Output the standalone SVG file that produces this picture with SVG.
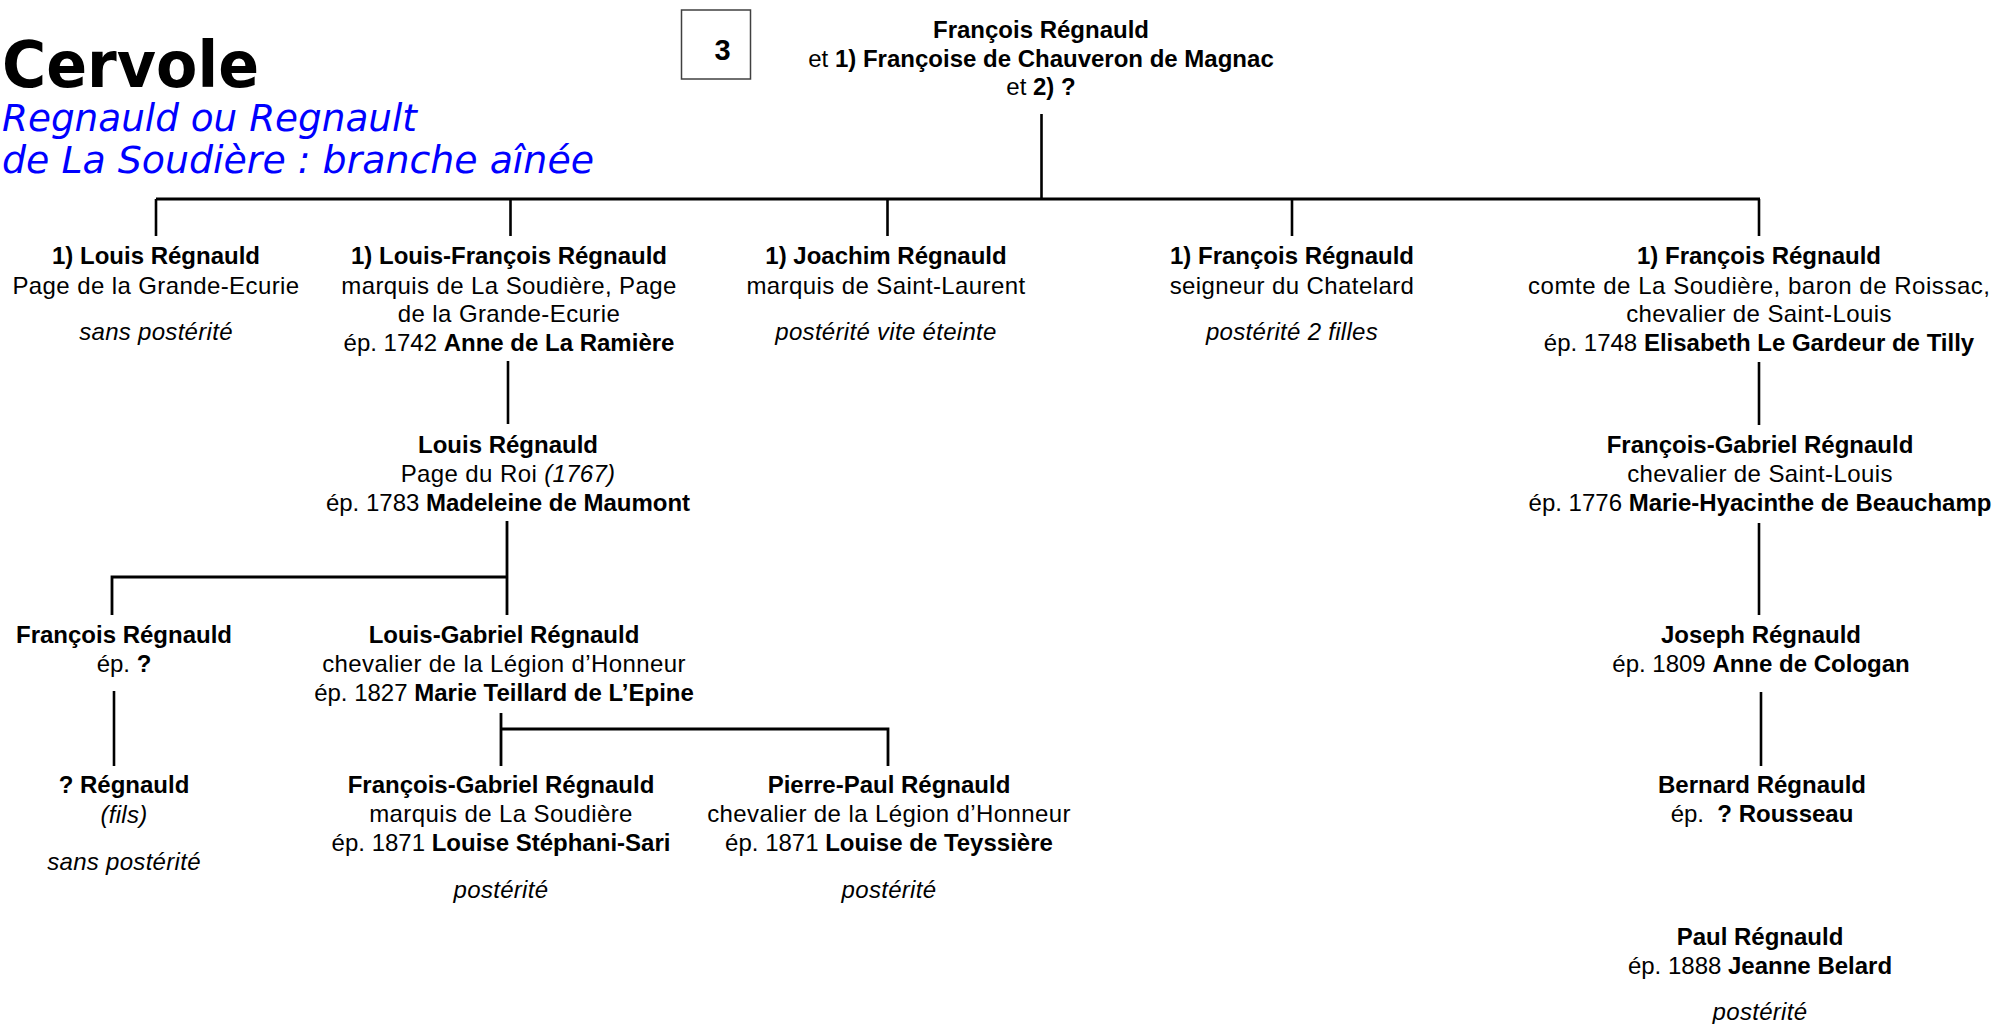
<svg xmlns="http://www.w3.org/2000/svg" width="2003" height="1024" viewBox="0 0 2003 1024">
<style>
.t{font-family:"Liberation Sans",Arial,sans-serif;font-size:24px;text-anchor:middle;fill:#000}
.b{font-weight:bold}
.i{font-style:italic;letter-spacing:0.3px}
.r{letter-spacing:0.4px}
.title{font-family:"DejaVu Sans",Verdana,sans-serif;font-weight:bold;font-size:64px;fill:#000}
.sub{font-family:"DejaVu Sans",Verdana,sans-serif;font-style:italic;font-size:37px;fill:#0000FF}
.c line,.c path{stroke:#000;stroke-width:2.6;fill:none}
</style>
<rect width="2003" height="1024" fill="#fff"/>
<g id="title">
<text class="title" x="2" y="87" textLength="257" lengthAdjust="spacingAndGlyphs">Cervole</text>
<text class="sub" x="2" y="131" textLength="415" lengthAdjust="spacingAndGlyphs">Regnauld ou Regnault</text>
<text class="sub" x="2" y="173" textLength="592" lengthAdjust="spacingAndGlyphs">de La Soudière : branche aînée</text>
</g>
<g id="box3">
<rect x="681.5" y="10" width="69" height="69" fill="none" stroke="#404040" stroke-width="1.5"/>
<text class="t b" x="722.5" y="60" style="font-size:29px">3</text>
</g>
<g class="c" id="connectors">
<line x1="1041.5" y1="114" x2="1041.5" y2="199"/>
<line x1="156" y1="199" x2="1760" y2="199" style="stroke-width:3"/>
<line x1="156" y1="199" x2="156" y2="236"/>
<line x1="510.5" y1="199" x2="510.5" y2="236"/>
<line x1="887.5" y1="199" x2="887.5" y2="236"/>
<line x1="1292" y1="199" x2="1292" y2="236"/>
<line x1="1759" y1="199" x2="1759" y2="236"/>
<line x1="508" y1="361" x2="508" y2="424"/>
<line x1="1759" y1="362" x2="1759" y2="425"/>
<path d="M507 521V615M112 615V577H507" style="stroke-width:2.8"/>
<line x1="114" y1="691" x2="114" y2="766"/>
<path d="M501 713V766M501 729H888V766" style="stroke-width:2.8"/>
<line x1="1759" y1="523" x2="1759" y2="615"/>
<line x1="1761" y1="692" x2="1761" y2="766"/>
</g>
<g id="n-francois">
<text class="t" x="1041" y="38"><tspan class="b">François Régnauld</tspan></text>
<text class="t" x="1041" y="67">et <tspan class="b">1) Françoise de Chauveron de Magnac</tspan></text>
<text class="t" x="1041" y="95">et <tspan class="b">2) ?</tspan></text>
</g>
<g id="n-louis">
<text class="t b" x="156" y="264">1) Louis Régnauld</text>
<text class="t r" x="156" y="294">Page de la Grande-Ecurie</text>
<text class="t i" x="156" y="340">sans postérité</text>
</g>
<g id="n-louis-francois">
<text class="t b" x="509" y="264">1) Louis-François Régnauld</text>
<text class="t r" x="509" y="294">marquis de La Soudière, Page</text>
<text class="t r" x="509" y="322">de la Grande-Ecurie</text>
<text class="t" x="509" y="351">ép. 1742 <tspan class="b">Anne de La Ramière</tspan></text>
</g>
<g id="n-joachim">
<text class="t b" x="886" y="264">1) Joachim Régnauld</text>
<text class="t r" x="886" y="294">marquis de Saint-Laurent</text>
<text class="t i" x="886" y="340">postérité vite éteinte</text>
</g>
<g id="n-francois-chatelard">
<text class="t b" x="1292" y="264">1) François Régnauld</text>
<text class="t r" x="1292" y="294">seigneur du Chatelard</text>
<text class="t i" x="1292" y="340">postérité 2 filles</text>
</g>
<g id="n-francois-comte">
<text class="t b" x="1759" y="264">1) François Régnauld</text>
<text class="t" x="1759" y="294" textLength="462" lengthAdjust="spacing">comte de La Soudière, baron de Roissac,</text>
<text class="t r" x="1759" y="322">chevalier de Saint-Louis</text>
<text class="t" x="1759" y="351">ép. 1748 <tspan class="b">Elisabeth Le Gardeur de Tilly</tspan></text>
</g>
<g id="n-louis2">
<text class="t b" x="508" y="453">Louis Régnauld</text>
<text class="t r" x="508" y="482">Page du Roi <tspan class="i">(1767)</tspan></text>
<text class="t" x="508" y="511">ép. 1783 <tspan class="b">Madeleine de Maumont</tspan></text>
</g>
<g id="n-francois-gabriel1">
<text class="t b" x="1760" y="453">François-Gabriel Régnauld</text>
<text class="t r" x="1760" y="482">chevalier de Saint-Louis</text>
<text class="t" x="1760" y="511">ép. 1776 <tspan class="b">Marie-Hyacinthe de Beauchamp</tspan></text>
</g>
<g id="n-francois3">
<text class="t b" x="124" y="643">François Régnauld</text>
<text class="t" x="124" y="672">ép. <tspan class="b">?</tspan></text>
</g>
<g id="n-louis-gabriel">
<text class="t b" x="504" y="643">Louis-Gabriel Régnauld</text>
<text class="t r" x="504" y="672">chevalier de la Légion d’Honneur</text>
<text class="t" x="504" y="701">ép. 1827 <tspan class="b">Marie Teillard de L’Epine</tspan></text>
</g>
<g id="n-joseph">
<text class="t b" x="1761" y="643">Joseph Régnauld</text>
<text class="t" x="1761" y="672">ép. 1809 <tspan class="b">Anne de Cologan</tspan></text>
</g>
<g id="n-fils">
<text class="t b" x="124" y="793">? Régnauld</text>
<text class="t i" x="124" y="823">(fils)</text>
<text class="t i" x="124" y="870">sans postérité</text>
</g>
<g id="n-francois-gabriel2">
<text class="t b" x="501" y="793">François-Gabriel Régnauld</text>
<text class="t r" x="501" y="822">marquis de La Soudière</text>
<text class="t" x="501" y="851">ép. 1871 <tspan class="b">Louise Stéphani-Sari</tspan></text>
<text class="t i" x="501" y="898">postérité</text>
</g>
<g id="n-pierre-paul">
<text class="t b" x="889" y="793">Pierre-Paul Régnauld</text>
<text class="t r" x="889" y="822">chevalier de la Légion d’Honneur</text>
<text class="t" x="889" y="851">ép. 1871 <tspan class="b">Louise de Teyssière</tspan></text>
<text class="t i" x="889" y="898">postérité</text>
</g>
<g id="n-bernard">
<text class="t b" x="1762" y="793">Bernard Régnauld</text>
<text class="t" x="1762" y="822">ép.&#160; <tspan class="b">? Rousseau</tspan></text>
</g>
<g id="n-paul">
<text class="t b" x="1760" y="945">Paul Régnauld</text>
<text class="t" x="1760" y="974">ép. 1888 <tspan class="b">Jeanne Belard</tspan></text>
<text class="t i" x="1760" y="1020">postérité</text>
</g>
</svg>
